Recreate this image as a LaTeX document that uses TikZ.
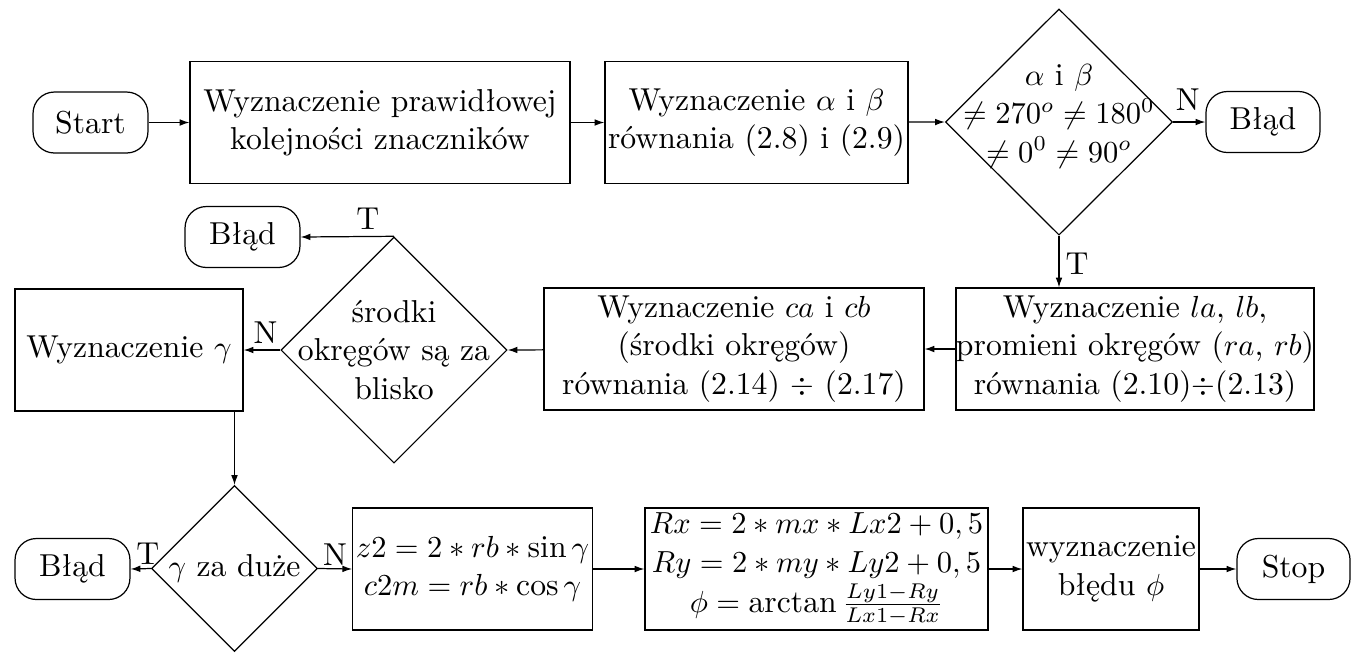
\documentclass[tikz,border=0pt]{standalone}
\usepackage{fontspec}
\usetikzlibrary{shapes.geometric,arrows.meta}
\begin{document}
\begin{tikzpicture}[x=0.328pt,y=-0.328pt,
  every node/.style={font=\fontsize{10.4}{12.6}\selectfont},
  box/.style={draw,rectangle,align=center,inner sep=1pt,minimum height=40pt},
  term/.style={draw,rectangle,rounded corners=7pt,align=center,minimum height=20pt,inner sep=1pt},
  dec/.style={draw,diamond,inner sep=0pt},
  txt/.style={align=center,inner sep=0pt},
  lbl/.style={inner sep=2pt},
  arr/.style={-{Latex[length=3.2pt,width=2.2pt]}}]
\useasboundingbox (0,0) rectangle (1351,653);
% row 1
\node[term,minimum width=37.7pt] (start) at (90.5,122.5) {Start};
\node[box,minimum width=124.6pt] (b1) at (380,122.5) {Wyznaczenie prawidłowej\\kolejności znaczników};
\node[box,minimum width=99.4pt,inner sep=0pt] (b2) at (756.5,122.5) {Wyznaczenie $\alpha$ i $\beta$\\równania (2.8) i (2.9)};
\node[dec,minimum width=74.5pt,minimum height=74.2pt] (d1) at (1059,122) {};
\node[txt] (d1t) at (1059,116) {$\alpha$ i $\beta$\\$\neq 270^o \neq 180^0$\\$\neq 0^0 \neq 90^o$};
\node[term,minimum width=37.4pt] (err1) at (1263,122) {Błąd};
% row 2
\node[box,minimum width=114.8pt,inner sep=0pt] (b3) at (1135,349) {Wyznaczenie $la$, $lb$,\\promieni okręgów ($ra$, $rb$)\\równania (2.10)$\div$(2.13)};
\node[box,minimum width=124.6pt] (b4) at (734,349) {Wyznaczenie $ca$ i $cb$\\(środki okręgów)\\równania (2.14) $\div$ (2.17)};
\node[dec,minimum width=74.2pt,minimum height=74.2pt] (d2) at (394,350) {};
\node[txt] (d2t) at (394,350) {środki\\okręgów są za\\blisko};
\node[term,minimum width=37.7pt] (err2) at (242.5,237) {Błąd};
\node[box,minimum width=74.8pt] (b5) at (129,350) {Wyznaczenie $\gamma$};
% row 3
\node[dec,minimum width=54.4pt,minimum height=54.4pt] (d3) at (234.5,568.5) {};
\node[txt] (d3t) at (234.5,568.5) {$\gamma$ za duże};
\node[term,minimum width=37.7pt] (err3) at (72.5,569) {Błąd};
\node[box,minimum width=77.1pt] (b6) at (472.5,569) {$z2=2*rb*\sin\gamma$\\$c2m=rb*\cos\gamma$};
\node[box,minimum width=112.5pt,inner sep=0pt] (b7) at (816.5,569) {$Rx=2*mx*Lx2+0,5$\\$Ry=2*my*Ly2+0,5$\\[0.5pt]$\phi=\arctan\frac{Ly1-Ry}{Lx1-Rx}$};
\node[box,minimum width=55.1pt] (b8) at (1111,569) {wyznaczenie\\błędu $\phi$};
\node[term,minimum width=37.1pt] (stop) at (1293.5,569) {Stop};
% connectors
\draw[arr] (start) -- (b1);
\draw[arr] (b1) -- (b2);
\draw[arr] (b2) -- (d1.west);
\draw[arr] (d1.east) -- node[lbl,above,inner sep=3.5pt,pos=0.45] (n1) {N} (err1);
\draw[arr] (d1.south) -- node[lbl,right,pos=0.55] (t1) {T} (b3.north -| d1.south);
\draw[arr] (b3) -- (b4);
\draw[arr] (b4) -- (d2.east);
\draw[arr] (d2.north) -- node[lbl,above,pos=0.28] (t2) {T} (err2.east);
\draw[arr] (d2.west) -- node[lbl,above,pos=0.4] (n2) {N} (b5.east);
\coordinate (c5) at (b5.south -| d3.north);
\draw[arr] (c5) -- (d3.north);
\draw[arr] (d3.west) -- node[lbl,above,pos=0.15,inner sep=1pt] (t3) {T} (err3.east);
\draw[arr] (d3.east) -- node[lbl,above,pos=0.5,inner sep=1pt] (n3) {N} (b6.west);
\draw[arr] (b6) -- (b7);
\draw[arr] (b7) -- (b8);
\draw[arr] (b8) -- (stop);
\end{tikzpicture}
\end{document}
